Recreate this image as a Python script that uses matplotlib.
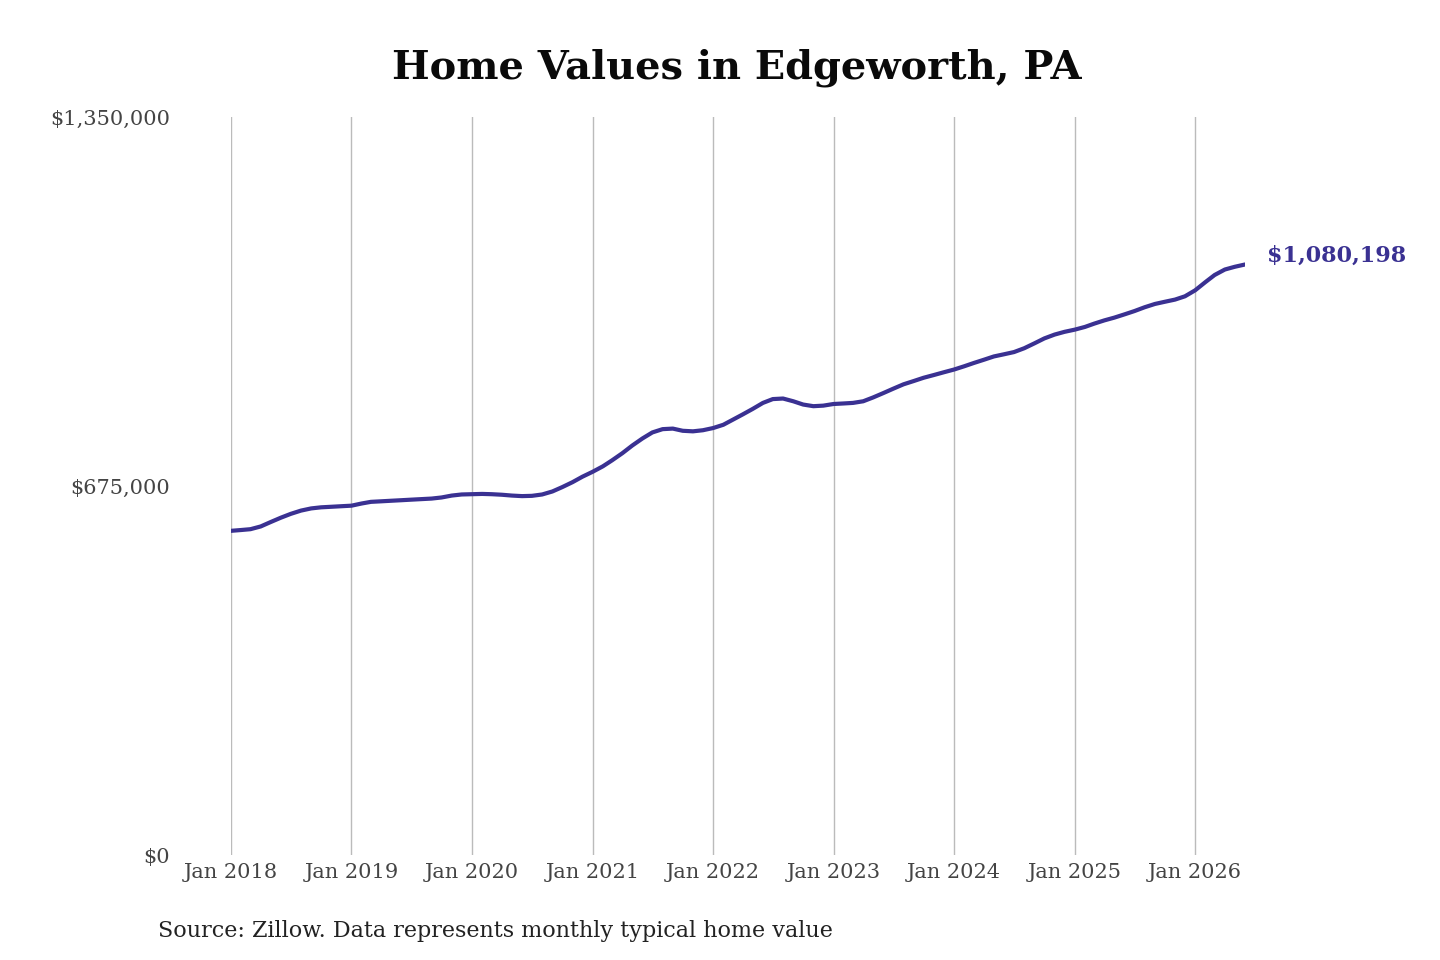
import numpy as np
import pandas as pd
import matplotlib
matplotlib.use("Agg")
import matplotlib.pyplot as plt
from matplotlib.ticker import FuncFormatter

# monthly typical home value, Jan 2018 .. Jun 2026
v2018 = [593000, 594500, 596000, 601000, 609000, 617000, 624000, 630000, 634000, 636000, 637000, 638000]
v2019 = [639000, 643000, 646000, 647000, 648000, 649000, 650000, 651000, 652000, 654000, 657500, 659500]
v2020 = [660000, 660500, 660000, 659000, 657500, 656500, 657000, 659500, 665000, 673000, 682000, 692000]
v2021 = [701000, 711000, 722000, 735000, 749000, 762000, 773000, 779000, 780000, 776000, 775000, 777000]
v2022 = [781000, 787000, 796000, 806000, 816000, 827000, 834000, 835000, 830000, 824000, 821000, 822000]
v2023 = [825000, 826000, 827000, 830000, 837000, 845000, 853000, 861000, 867000, 873000, 878000, 883000]
v2024 = [888000, 894000, 900000, 906000, 912000, 916000, 920000, 927000, 936000, 945000, 952000, 957000]
v2025 = [961000, 966000, 972000, 978000, 983000, 989000, 995000, 1002000, 1008000, 1012000, 1016000, 1022000]
v2026 = [1033000, 1048000, 1061000, 1071000, 1076000, 1080198]

values = v2018 + v2019 + v2020 + v2021 + v2022 + v2023 + v2024 + v2025 + v2026
dates = pd.date_range("2018-01-01", periods=len(values), freq="MS")
ytick_vals = [0, 675000, 1350000]
xtick_years = list(range(2018, 2027))

line_color = "#3a3192"
serif = ["DejaVu Serif"]

fig = plt.figure(figsize=(14.4, 9.6), dpi=100)
ax = fig.add_axes([231 / 1440, 1 - 855 / 960, (1245 - 231) / 1440, (855 - 117) / 960])

ax.plot(dates, values, color=line_color, lw=3, solid_capstyle="round")

ax.set_xlim(dates[0], dates[-1])
ax.set_ylim(0, 1350000)

xt = [pd.Timestamp(f"{y}-01-01") for y in xtick_years]
ax.set_xticks(xt)
ax.set_xticklabels([f"Jan {y}" for y in xtick_years], family=serif, fontsize=15, color="#444444")
ax.set_yticks(ytick_vals)
ax.yaxis.set_major_formatter(FuncFormatter(lambda v, p: f"${v:,.0f}"))
for lab in ax.get_yticklabels():
    lab.set_family(serif)
    lab.set_fontsize(15)
    lab.set_color("#444444")
ax.tick_params(axis="y", length=0, pad=44)
ax.tick_params(axis="x", length=0, pad=6)

ax.grid(axis="x", color="#bbbbbb", lw=1)
ax.set_axisbelow(True)
for s in ax.spines.values():
    s.set_visible(False)

# end label
ax.annotate(f"${values[-1]:,.0f}", xy=(dates[-1], values[-1]), xytext=(16, 6),
            textcoords="offset points", ha="left", va="center",
            family=serif, fontsize=16, fontweight="bold", color=line_color)

fig.text(737 / 1440, 1 - 68 / 960, "Home Values in Edgeworth, PA", ha="center", va="center",
         family=serif, fontsize=28.7, fontweight="bold", color="#0a0a0a")
fig.text(158 / 1440, 1 - 931 / 960, "Source: Zillow. Data represents monthly typical home value",
         ha="left", va="center", family=serif, fontsize=16, color="#222222")

fig.savefig("out.png", dpi=100, facecolor="white")
